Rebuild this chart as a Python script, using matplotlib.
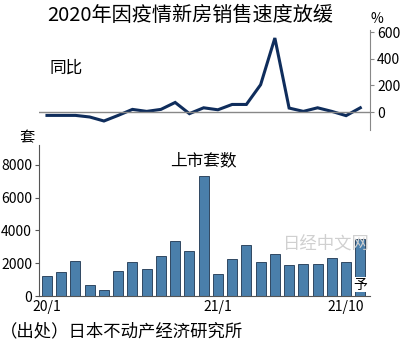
import matplotlib
matplotlib.use("Agg")
import matplotlib.pyplot as plt

plt.rcParams['font.family'] = ['Noto Sans CJK SC', 'DejaVu Sans']

# 2020/1 - 2021/11 (last month is a forecast)
months = list(range(23))
yoy = [-25, -25, -25, -37, -67, -25, 20, 5, 20, 72, -12, 32, 17, 57, 57,
       205, 555, 30, 5, 32, 5, -27, 32]
units = [1240, 1490, 2140, 670, 370, 1550, 2060, 1670, 2460, 3360, 2770, 7330,
         1320, 2240, 3100, 2080, 2590, 1910, 1930, 1930, 2320, 2060, 3500]
tick_pos = [0, 12, 21]
tick_labels = ["20/1", "21/1", "21/10"]

fig = plt.figure(figsize=(4, 3.45), dpi=100)
ax1 = fig.add_axes([0.0975, 0.623, 0.8275, 0.290])
ax2 = fig.add_axes([0.0975, 0.142, 0.8275, 0.4377])

# top: year-on-year line
ax1.plot(months, yoy, color="#0f2d5c", lw=2.2, solid_joinstyle="miter")
ax1.axhline(0, color="#888888", lw=1)
ax1.set_xlim(-0.56, 22.68)
ax1.set_ylim(-135, 615)
for s in ["left", "top", "bottom"]:
    ax1.spines[s].set_visible(False)
ax1.spines["right"].set_color("#888888")
ax1.yaxis.tick_right()
ax1.set_yticks([0, 200, 400, 600])
ax1.tick_params(axis="y", length=3, color="#888888", labelsize=10, pad=2)
ax1.set_xticks([])
ax1.text(0.033, 0.62, "同比", transform=ax1.transAxes, va="center", fontsize=12)

# bottom: units launched
ax2.bar(months, units, width=0.7, color="#4a7fab", edgecolor="#1e3550", lw=0.6)
ax2.set_xlim(-0.56, 22.68)
ax2.set_ylim(0, 9220)
ax2.spines["top"].set_visible(False)
ax2.spines["right"].set_visible(False)
ax2.spines["left"].set_color("#555555")
ax2.spines["bottom"].set_color("#555555")
ax2.set_yticks([0, 2000, 4000, 6000, 8000])
ax2.tick_params(axis="y", length=3, color="#555555", labelsize=10, pad=2)
ax2.set_xticks(tick_pos)
ax2.set_xticklabels(tick_labels)
ax2.tick_params(axis="x", length=0, labelsize=10, pad=3)
ax2.text(22, 700, "予", ha="center", va="center", fontsize=10,
         bbox=dict(facecolor="white", edgecolor="none", pad=0.5))
ax2.text(0.497, 0.894, "上市套数", transform=ax2.transAxes, ha="center",
         va="center", fontsize=12)

fig.text(0.475, 0.956, "2020年因疫情新房销售速度放缓", ha="center", va="center",
         fontsize=14.5)
fig.text(0.943, 0.945, "%", ha="center", va="center", fontsize=10)
fig.text(0.068, 0.6, "套", ha="center", va="center", fontsize=11)
fig.text(0.815, 0.295, "日经中文网", ha="center", va="center", fontsize=12.5,
         color="#d0d0d0")
fig.text(0.0, 0.04, "（出处）日本不动产经济研究所", ha="left", va="center",
         fontsize=12.5)

fig.savefig("out.png", dpi=100)
